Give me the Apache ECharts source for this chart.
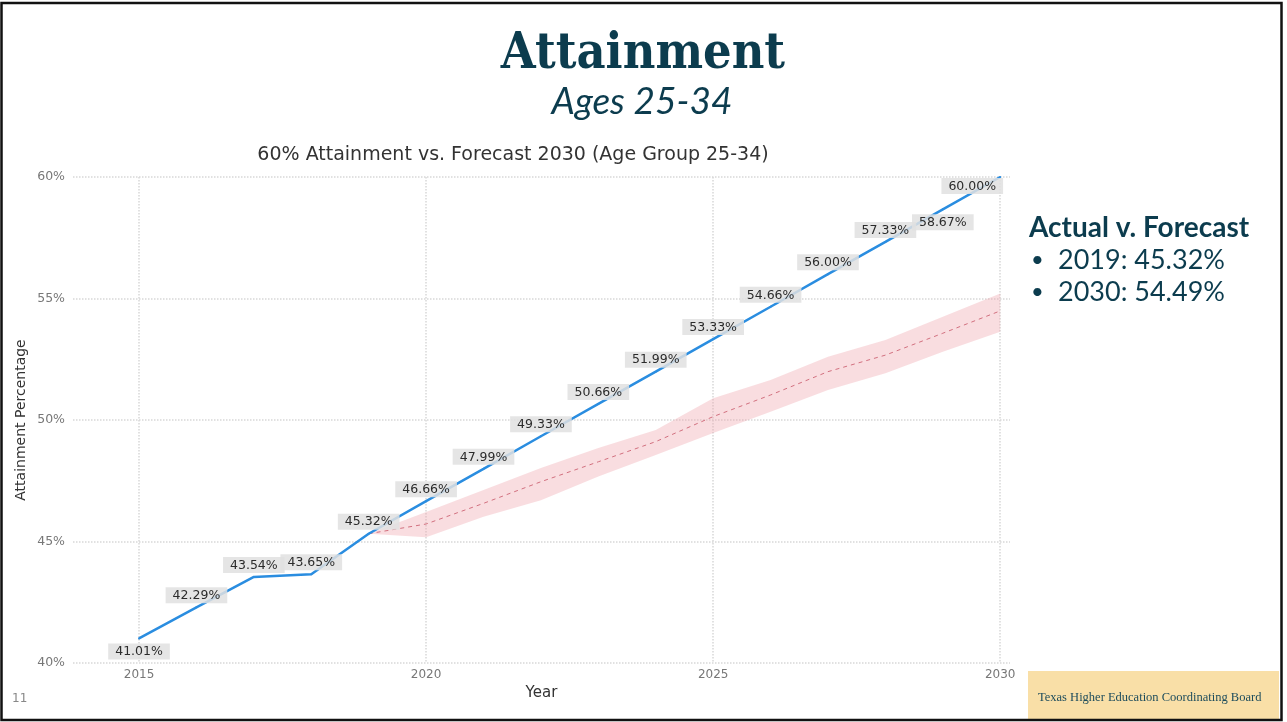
<!DOCTYPE html>
<html><head><meta charset="utf-8">
<script src="https://cdn.jsdelivr.net/npm/echarts@6/dist/echarts.min.js"></script>
<style>html,body{margin:0;padding:0;background:#fff}#c{width:1287px;height:722px}</style>
</head><body><div id="c"></div>
<script>
// ---- data ----
const years = [2015,2016,2017,2018,2019,2020,2021,2022,2023,2024,2025,2026,2027,2028,2029,2030];
const attainment = [41.01,42.29,43.54,43.65,45.32,46.66,47.99,49.33,50.66,51.99,53.33,54.66,56.00,57.33,58.67,60.00];
const forecastYears = [2019,2020,2021,2022,2023,2024,2025,2026,2027,2028,2029,2030];
const forecastMid  = [45.32,45.72,46.57,47.46,48.28,49.11,50.14,51.03,51.99,52.67,53.57,54.49];
const forecastLow  = [45.32,45.18,46.02,46.70,47.67,48.56,49.47,50.34,51.23,51.92,52.81,53.63];
const forecastHigh = [45.32,46.21,47.12,48.02,48.85,49.59,50.90,51.65,52.60,53.29,54.25,55.21];
const xTicks = [2015,2020,2025,2030];
const yTicks = [40,45,50,55,60];
const pageTitle = 'Attainment';
const pageSubtitle = 'Ages 25-34';
const chartTitle = '60% Attainment vs. Forecast 2030 (Age Group 25-34)';
const sideHeading = 'Actual v. Forecast';
const sideBullets = ['2019: 45.32%', '2030: 54.49%'];
const footerText = 'Texas Higher Education Coordinating Board';
const pageNumber = '11';

// ---- build ----
const labelOverrides = {
  2015: {position: 'bottom', distance: 4},
  2029: {position: 'bottom', distance: 4},
  2030: {position: 'top', offset: [-28, 21]}
};
const blueData = years.map((y, i) => {
  const d = {value: [y, attainment[i]]};
  if (labelOverrides[y]) d.label = labelOverrides[y];
  return d;
});
const bandData = forecastYears.map((y, i) => [y, forecastLow[i], forecastHigh[i]]);
const midData = forecastYears.map((y, i) => [y, forecastMid[i]]);

const teal = '#0c3c4e';
const chart = echarts.init(document.getElementById('c'), null, {renderer: 'canvas'});
const option = {
  animation: false,
  backgroundColor: '#fff',
  grid: {left: 73, right: 277, top: 177, bottom: 59, containLabel: false},
  xAxis: {
    type: 'value', min: 2013.85, max: 2030.17,
    axisLine: {show: false},
    axisTick: {show: false, customValues: xTicks},
    axisLabel: {customValues: xTicks, color: '#777', fontSize: 12, fontFamily: 'DejaVu Sans', margin: 6, formatter: v => String(v)},
    splitLine: {show: true, lineStyle: {color: '#d8d8d8', type: 'dotted', width: 1.5}},
    name: 'Year', nameLocation: 'middle', nameGap: 23,
    nameTextStyle: {color: '#333', fontSize: 15, fontFamily: 'DejaVu Sans'}
  },
  yAxis: {
    type: 'value', min: yTicks[0], max: yTicks[yTicks.length - 1], interval: 5,
    axisLine: {show: false}, axisTick: {show: false},
    axisLabel: {formatter: '{value}%', color: '#777', fontSize: 12.5, fontFamily: 'DejaVu Sans', margin: 8},
    splitLine: {show: true, lineStyle: {color: '#d8d8d8', type: 'dotted', width: 1.5}},
    name: 'Attainment Percentage', nameLocation: 'middle', nameGap: 45, nameMoveOverlap: false,
    nameTextStyle: {color: '#333', fontSize: 14, fontFamily: 'DejaVu Sans'}
  },
  series: [
    {
      name: 'band', type: 'custom', data: bandData, silent: true, z: 1,
      encode: {x: 0, y: [1, 2]},
      renderItem: (params, api) => {
        if (params.dataIndex !== 0) return null;
        const top = bandData.map(d => api.coord([d[0], d[2]]));
        const bot = bandData.slice().reverse().map(d => api.coord([d[0], d[1]]));
        return {type: 'polygon', shape: {points: top.concat(bot), smooth: 0}, style: {fill: 'rgba(238,160,170,0.36)'}};
      }
    },
    {
      name: 'forecast', type: 'line', data: midData, symbol: 'none',
      lineStyle: {color: '#d2707f', width: 1, type: [4, 4]}, z: 2
    },
    {
      name: 'target', type: 'line', data: blueData, symbol: 'circle', symbolSize: 2,
      itemStyle: {color: '#2a8de0'},
      lineStyle: {color: '#2a8de0', width: 2.5}, z: 3,
      label: {
        show: true, position: 'top', distance: 3,
        formatter: p => p.value[1].toFixed(2) + '%',
        color: '#2b2b2b', fontSize: 12.5, fontFamily: 'DejaVu Sans',
        backgroundColor: 'rgba(225,225,225,0.85)', padding: [2, 7, 1, 7]
      }
    }
  ],
  graphic: [
    {type: 'rect', shape: {x: 1.5, y: 3, width: 1280, height: 717}, style: {fill: 'none', stroke: '#111', lineWidth: 2.5}, z: 10},
    {type: 'text', x: 643, y: 55, style: {text: pageTitle, fontFamily: '"DejaVu Serif Condensed", "DejaVu Serif"', fontWeight: 'bold', fontSize: 50, fill: teal, textAlign: 'center', textVerticalAlign: 'middle'}},
    {type: 'text', x: 642, y: 102, style: {text: pageSubtitle, fontFamily: 'Lato', fontStyle: 'italic', fontSize: 37, fill: teal, textAlign: 'center', textVerticalAlign: 'middle'}},
    {type: 'text', x: 513, y: 155, style: {text: chartTitle, fontFamily: 'DejaVu Sans', fontSize: 19, fill: '#333', textAlign: 'center', textVerticalAlign: 'middle'}},
    {type: 'text', x: 1029, y: 228, style: {text: sideHeading, fontFamily: 'Lato', fontWeight: 'bold', fontSize: 28, fill: teal, textAlign: 'left', textVerticalAlign: 'middle'}},
    {type: 'text', x: 1031, y: 260, style: {text: '•', fontFamily: 'Lato', fontSize: 22, fill: teal, textAlign: 'left', textVerticalAlign: 'middle'}},
    {type: 'text', x: 1058, y: 260, style: {text: sideBullets[0], fontFamily: 'Lato', fontSize: 27, fill: teal, textAlign: 'left', textVerticalAlign: 'middle'}},
    {type: 'text', x: 1031, y: 292, style: {text: '•', fontFamily: 'Lato', fontSize: 22, fill: teal, textAlign: 'left', textVerticalAlign: 'middle'}},
    {type: 'text', x: 1058, y: 292, style: {text: sideBullets[1], fontFamily: 'Lato', fontSize: 27, fill: teal, textAlign: 'left', textVerticalAlign: 'middle'}},
    {type: 'rect', shape: {x: 1028, y: 671, width: 251, height: 49}, style: {fill: '#f9dfa7'}},
    {type: 'text', x: 1038, y: 698, style: {text: footerText, fontFamily: 'Liberation Serif', fontSize: 12.5, fill: '#1d4c5c', textAlign: 'left', textVerticalAlign: 'middle'}},
    {type: 'text', x: 12, y: 699, style: {text: pageNumber, fontFamily: 'DejaVu Sans', fontSize: 12, fill: '#888', textAlign: 'left', textVerticalAlign: 'middle'}}
  ]
};
chart.setOption(option);
</script>
</body></html>
